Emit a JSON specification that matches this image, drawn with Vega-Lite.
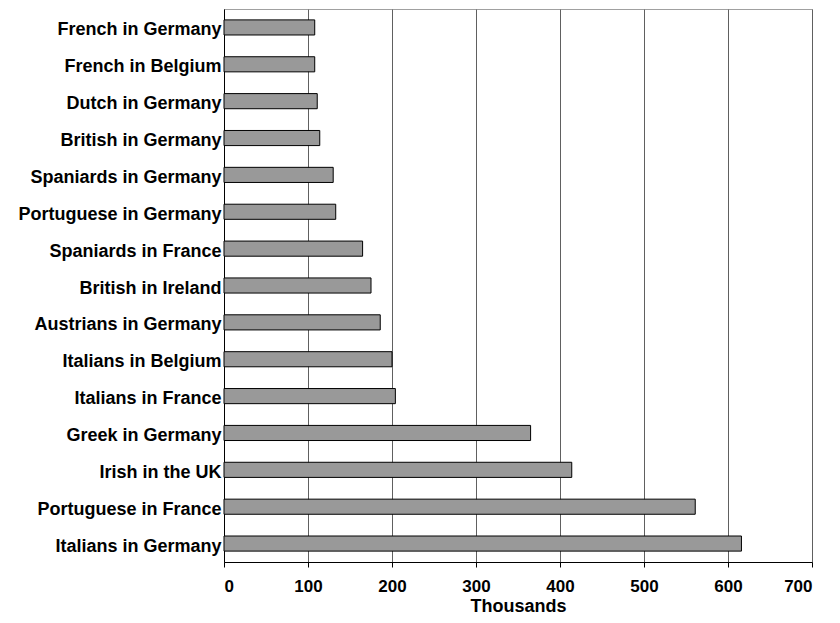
{
  "$schema": "https://vega.github.io/schema/vega-lite/v6.json",
  "width": 588,
  "height": 553,
  "autosize": {"type": "none"},
  "padding": {"left": 224, "top": 9, "right": 28, "bottom": 61},
  "background": "white",
  "config": {
    "view": {"stroke": "#a0a0a0", "strokeWidth": 1},
    "font": "Liberation Sans"
  },
  "data": {
    "values": [
      {"group": "French in Germany", "value": 108},
      {"group": "French in Belgium", "value": 108},
      {"group": "Dutch in Germany", "value": 111},
      {"group": "British in Germany", "value": 114},
      {"group": "Spaniards in Germany", "value": 130},
      {"group": "Portuguese in Germany", "value": 133},
      {"group": "Spaniards in France", "value": 165},
      {"group": "British in Ireland", "value": 175},
      {"group": "Austrians in Germany", "value": 186},
      {"group": "Italians in Belgium", "value": 200},
      {"group": "Italians in France", "value": 204},
      {"group": "Greek in Germany", "value": 365},
      {"group": "Irish in the UK", "value": 414},
      {"group": "Portuguese in France", "value": 561},
      {"group": "Italians in Germany", "value": 616}
    ]
  },
  "mark": {"type": "bar", "fill": "#999999", "stroke": "#000000", "strokeWidth": 1},
  "encoding": {
    "y": {
      "field": "group",
      "type": "nominal",
      "sort": null,
      "scale": {"paddingInner": 0.59, "paddingOuter": 0.295},
      "axis": {
        "title": null,
        "domainColor": "#000000",
        "ticks": false,
        "labelFontSize": 18,
        "labelFontWeight": "bold",
        "labelColor": "#000000",
        "labelPadding": 3,
        "labelOffset": 3,
        "grid": false,
        "labelLimit": 300
      }
    },
    "x": {
      "field": "value",
      "type": "quantitative",
      "scale": {"domain": [0, 700], "nice": false},
      "axis": {
        "title": "Thousands",
        "titleFontSize": 18,
        "titleFontWeight": "bold",
        "titleColor": "#000000",
        "titlePadding": 3,
        "values": [0, 100, 200, 300, 400, 500, 600, 700],
        "domainColor": "#000000",
        "tickColor": "#000000",
        "tickSize": 5,
        "labelFontSize": 17,
        "labelFontWeight": "bold",
        "labelColor": "#000000",
        "labelPadding": 11,
        "grid": true,
        "gridColor": "#606060",
        "gridOpacity": 1
      }
    }
  }
}
